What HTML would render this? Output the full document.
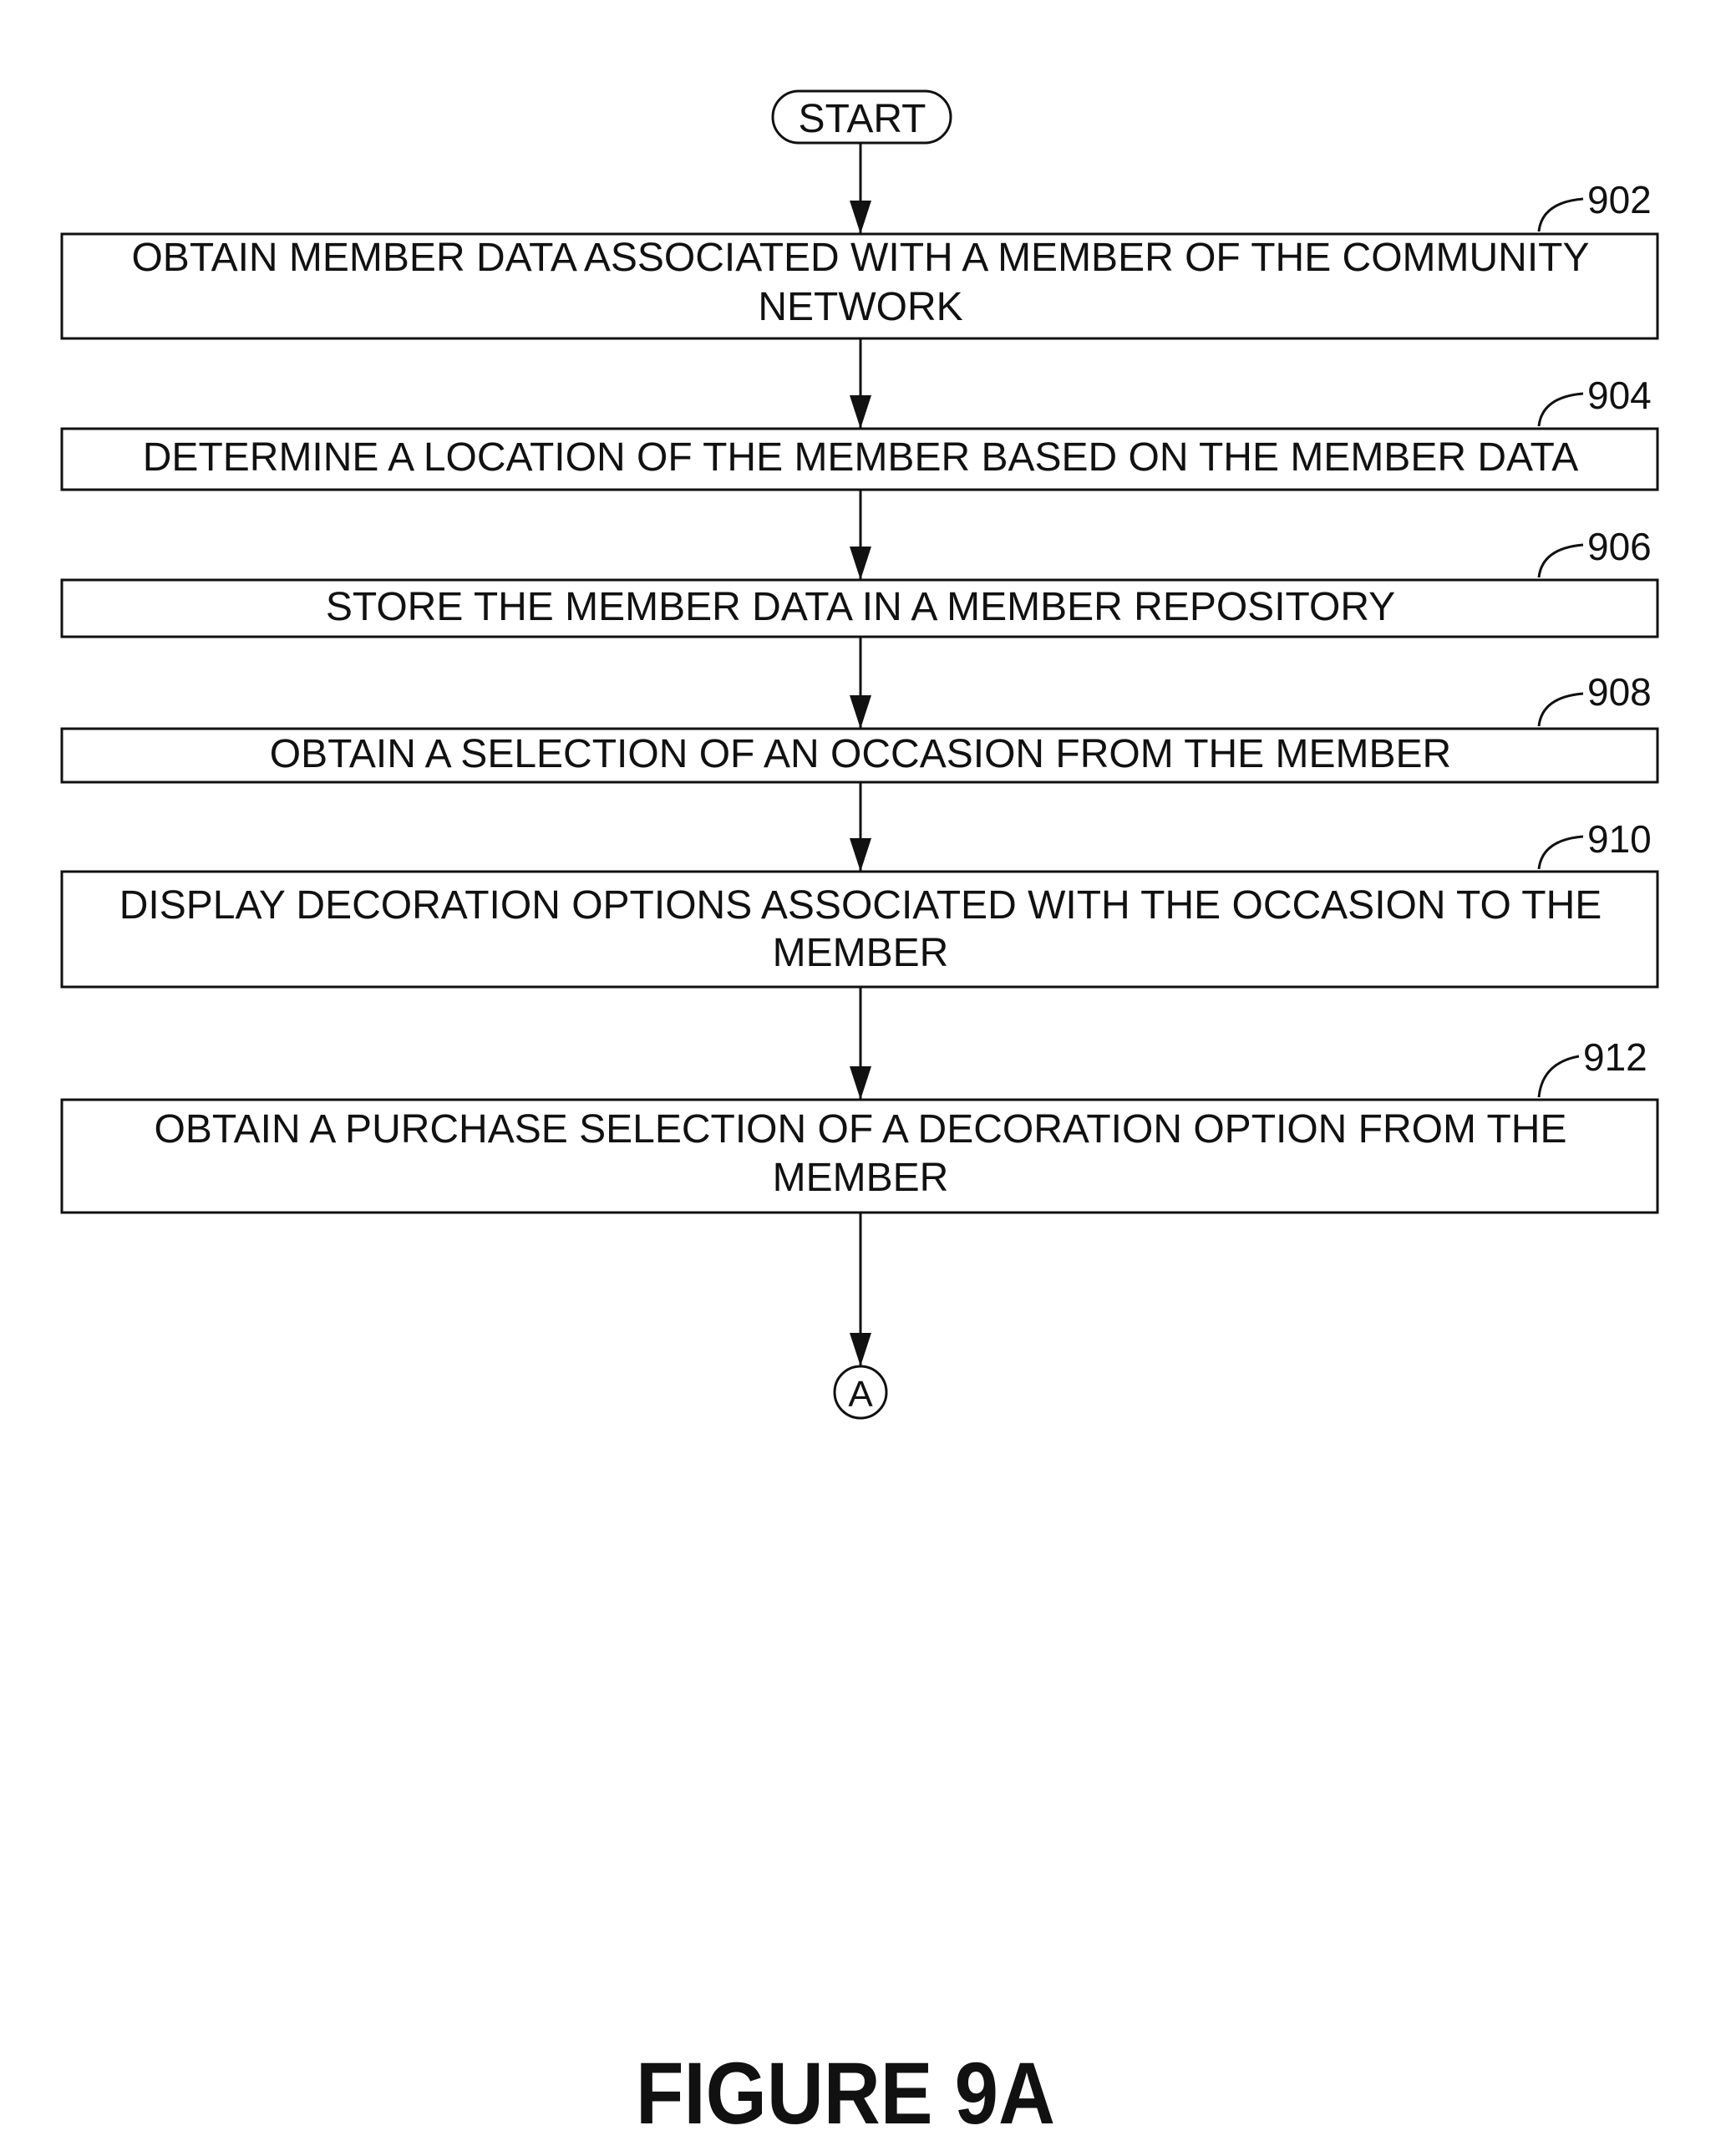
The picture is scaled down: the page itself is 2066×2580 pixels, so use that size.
<!DOCTYPE html>
<html><head><style>
html,body{margin:0;padding:0;background:#fff;}
svg{display:block;}
text{font-family:"Liberation Sans",Arial,sans-serif;fill:#111;}
</style></head><body>
<svg width="2066" height="2580" viewBox="0 0 2066 2580" xmlns="http://www.w3.org/2000/svg">
<defs>
<marker id="b" viewBox="0 0 26 40" markerWidth="26" markerHeight="40" refX="13" refY="40" orient="0" markerUnits="userSpaceOnUse"><path d="M0,0 L13,40 L26,0 z" fill="#111"/></marker></defs>
<g stroke="#111" stroke-width="3" fill="none">
<rect x="925" y="109" width="213" height="62" rx="31"/>
<rect x="74" y="280" width="1910" height="125"/>
<rect x="74" y="513" width="1910" height="73"/>
<rect x="74" y="694" width="1910" height="68"/>
<rect x="74" y="872" width="1910" height="64"/>
<rect x="74" y="1043" width="1910" height="138"/>
<rect x="74" y="1316" width="1910" height="135"/>
<circle cx="1030" cy="1666" r="31"/>
<line x1="1030" y1="171" x2="1030" y2="280" marker-end="url(#b)"/>
<line x1="1030" y1="405" x2="1030" y2="513" marker-end="url(#b)"/>
<line x1="1030" y1="586" x2="1030" y2="694" marker-end="url(#b)"/>
<line x1="1030" y1="762" x2="1030" y2="872" marker-end="url(#b)"/>
<line x1="1030" y1="936" x2="1030" y2="1043" marker-end="url(#b)"/>
<line x1="1030" y1="1181" x2="1030" y2="1316" marker-end="url(#b)"/>
<line x1="1030" y1="1451" x2="1030" y2="1635" marker-end="url(#b)"/>
<path d="M1842,277 Q1846,242 1895,238"/>
<path d="M1842,510 Q1846,475 1895,471"/>
<path d="M1842,691 Q1846,656 1895,652"/>
<path d="M1842,869 Q1846,834 1895,830"/>
<path d="M1842,1040 Q1846,1005 1895,1001"/>
<path d="M1842,1313 Q1846,1272 1890,1264"/>
</g>
<g font-size="48" text-anchor="middle">
<text x="1032" y="158">START</text>
<text x="1030" y="324">OBTAIN MEMBER DATA ASSOCIATED WITH A MEMBER OF THE COMMUNITY</text>
<text x="1030" y="383">NETWORK</text>
<text x="1030" y="563">DETERMINE A LOCATION OF THE MEMBER BASED ON THE MEMBER DATA</text>
<text x="1030" y="742">STORE THE MEMBER DATA IN A MEMBER REPOSITORY</text>
<text x="1030" y="918">OBTAIN A SELECTION OF AN OCCASION FROM THE MEMBER</text>
<text x="1030" y="1099">DISPLAY DECORATION OPTIONS ASSOCIATED WITH THE OCCASION TO THE</text>
<text x="1030" y="1156">MEMBER</text>
<text x="1030" y="1367">OBTAIN A PURCHASE SELECTION OF A DECORATION OPTION FROM THE</text>
<text x="1030" y="1425">MEMBER</text>
<text x="1030" y="1683" font-size="44">A</text>
</g>
<g font-size="46">
<text x="1900" y="255">902</text>
<text x="1900" y="489">904</text>
<text x="1900" y="670">906</text>
<text x="1900" y="844">908</text>
<text x="1900" y="1020">910</text>
<text x="1895" y="1281">912</text>
</g>
<text x="1012" y="2541" font-size="105" font-weight="bold" text-anchor="middle" textLength="502" lengthAdjust="spacingAndGlyphs">FIGURE 9A</text>
</svg>
</body></html>
